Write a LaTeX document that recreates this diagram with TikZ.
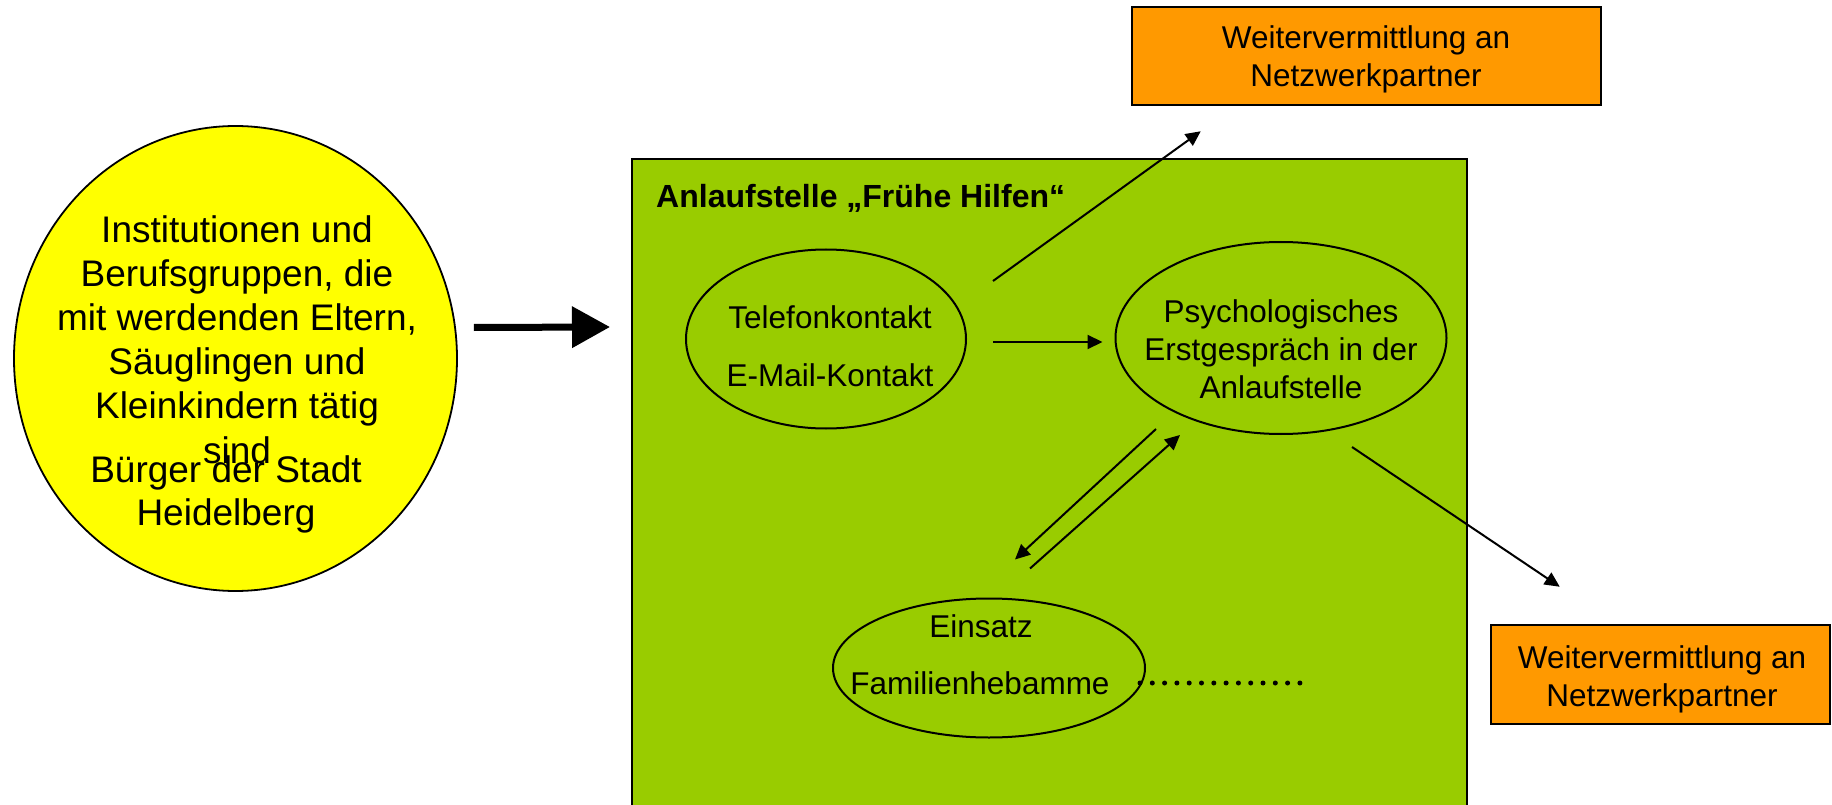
\documentclass[tikz,border=0pt]{standalone}
\usepackage{fontspec}
\setmainfont{Liberation Sans}
\usetikzlibrary{shapes.geometric,arrows.meta}
\definecolor{ygelb}{HTML}{FFFF00}
\definecolor{gruen}{HTML}{99CC00}
\definecolor{orng}{HTML}{FF9900}
\tikzset{
  ell/.style={ellipse, draw, line width=2pt, inner sep=0pt},
  obox/.style={rectangle, draw, line width=2.5pt, fill=orng, inner sep=0pt},
  txt/.style={font=\fontsize{31.5}{38}\selectfont, align=center, inner sep=0pt, anchor=base},
  arr/.style={line width=2pt, -{Triangle[length=15pt,width=14pt]}},
  bigarr/.style={line width=7pt, -{Triangle[length=38pt,width=40pt]}},
  dots/.style={line width=5pt, line cap=round, dash pattern=on 0pt off 12.3pt},
}
\begin{document}
\begin{tikzpicture}[x=1pt,y=-1pt]
\useasboundingbox (0,0) rectangle (1832,805);
% green box
\node[rectangle, draw, line width=2pt, fill=gruen, minimum width=835pt, minimum height=662pt, inner sep=0pt] (hilfe) at (1049.5,490) {};
\node[anchor=base west, inner sep=0pt, font=\fontsize{32}{38}\selectfont\bfseries] (titel) at (656,208) {Anlaufstelle „Frühe Hilfen“};
% yellow ellipse
\node[ell, line width=1.8pt, fill=ygelb, minimum width=443pt, minimum height=465pt] (yel) at (235.5,358.5) {};
\node[txt, font=\fontsize{37}{44.2}\selectfont] (ytxt1) at (237,463) {Institutionen und\\Berufsgruppen, die\\mit werdenden Eltern,\\Säuglingen und\\Kleinkindern tätig\\sind};
\node[txt, font=\fontsize{37}{43}\selectfont] (ytxt2) at (226,525) {Bürger der Stadt\\Heidelberg};
% ellipses inside
\node[ell, minimum width=280pt, minimum height=179pt] (tel) at (826,339) {};
\node[txt] (teltxt) at (830,386) {Telefonkontakt\\[20pt]E-Mail-Kontakt};
\node[ell, minimum width=331pt, minimum height=192pt] (psy) at (1281,338) {};
\node[txt] (psytxt) at (1281,398) {Psychologisches\\Erstgespräch in der\\Anlaufstelle};
\node[ell, minimum width=312pt, minimum height=139pt] (ein) at (989,668) {};
\node[txt] (eintxt) at (981,637) {Einsatz};
\node[txt] (eintxt2) at (980,694) {Familienhebamme};
% orange boxes
\node[obox, minimum width=469pt, minimum height=98pt] (top) at (1366.5,56) {};
\node[txt] (toptxt) at (1366,87) {Weitervermittlung an\\Netzwerkpartner};
\node[obox, minimum width=339pt, minimum height=99pt] (bot) at (1660.5,674.5) {};
\node[txt] (bottxt) at (1662,706) {Weitervermittlung an\\Netzwerkpartner};
% connectors
\draw[bigarr] ([shift={(16pt,31pt)}]yel.east) -- ([shift={(-21pt,-169pt)}]hilfe.north west);
\draw[arr] ([shift={(26pt,-3pt)}]tel.east) -- ([shift={(-12pt,-4pt)}]psy.west);
\draw[arr] ([shift={(26pt,58pt)}]tel.east) -- ([shift={(70pt,-25pt)}]top.south west);
\draw[arr] ([shift={(71pt,-12pt)}]psy.south) -- ([shift={(70pt,37pt)}]bot.north west);
\draw[arr] ([shift={(-125pt,6pt)}]psy.south) -- ([shift={(26pt,38pt)}]ein.north);
\draw[arr] ([shift={(41pt,29pt)}]ein.north) -- ([shift={(-101pt,0pt)}]psy.south);
\draw[dots] ([shift={(-6pt,-15pt)}]ein.east) -- ([shift={(154pt,-15pt)}]ein.east);
\end{tikzpicture}
\end{document}
